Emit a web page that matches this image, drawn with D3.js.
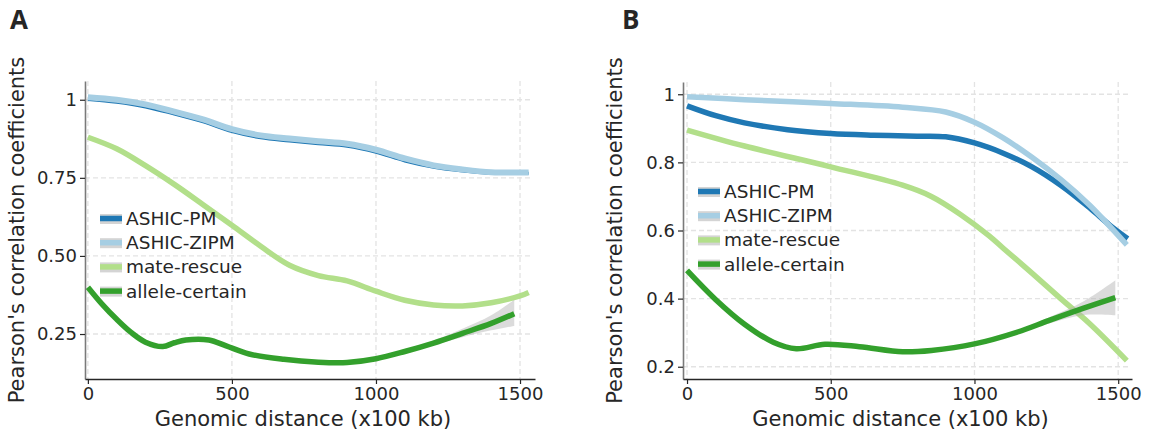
<!DOCTYPE html>
<html>
<head>
<meta charset="utf-8">
<script src="https://cdn.jsdelivr.net/npm/d3@7"></script>
<style>
    body { margin: 0; background: #fff; }
    text { font-family: "DejaVu Sans", sans-serif; fill: #262626; }
</style>
</head>
<body>
<div id="chart"></div>
<script>
// series names + colours (Paired palette)
var names = ['ASHIC-PM', 'ASHIC-ZIPM', 'mate-rescue', 'allele-certain'];
var colors = ['#1f78b4', '#a6cee3', '#b2df8a', '#33a02c'];

var xTicks = [0, 500, 1000, 1500];

// ---- panel A ----
var pmA_x = [0, 100, 200, 300, 400, 500, 600, 700, 800, 900, 1000, 1100, 1200, 1300, 1400, 1530];
var pmA_y = [1.001, 0.992, 0.977, 0.954, 0.929, 0.898, 0.878, 0.868, 0.859, 0.851, 0.832, 0.804, 0.784, 0.772, 0.765, 0.765];
var zipmA_x = [0, 100, 200, 300, 400, 500, 600, 700, 800, 900, 1000, 1100, 1200, 1300, 1400, 1530];
var zipmA_y = [1.008, 1.0, 0.985, 0.962, 0.937, 0.906, 0.886, 0.876, 0.867, 0.859, 0.840, 0.812, 0.790, 0.777, 0.768, 0.767];
var mateA_x = [0, 100, 200, 300, 400, 500, 600, 700, 800, 900, 1000, 1100, 1200, 1300, 1400, 1500, 1530];
var mateA_y = [0.880, 0.843, 0.789, 0.729, 0.664, 0.598, 0.531, 0.470, 0.437, 0.420, 0.387, 0.358, 0.343, 0.340, 0.350, 0.372, 0.383];
var acA_x = [0, 50, 100, 150, 200, 260, 300, 340, 420, 480, 560, 680, 800, 900, 1000, 1100, 1200, 1300, 1400, 1480];
var acA_y = [0.400, 0.345, 0.297, 0.255, 0.224, 0.210, 0.222, 0.231, 0.231, 0.212, 0.186, 0.169, 0.160, 0.159, 0.171, 0.194, 0.221, 0.252, 0.284, 0.315];
var acA_lo = [0.397, 0.342, 0.294, 0.252, 0.221, 0.207, 0.219, 0.228, 0.228, 0.209, 0.183, 0.166, 0.157, 0.156, 0.168, 0.190, 0.215, 0.240, 0.262, 0.276];
var acA_hi = [0.403, 0.348, 0.300, 0.258, 0.227, 0.213, 0.225, 0.234, 0.234, 0.215, 0.189, 0.172, 0.163, 0.162, 0.174, 0.199, 0.229, 0.267, 0.310, 0.360];
var yTicksA = [0.25, 0.5, 0.75, 1];
var yLabelsA = ['0.25', '0.50', '0.75', '1'];

// ---- panel B ----
var pmB_x = [0, 100, 200, 350, 500, 650, 800, 900, 1000, 1100, 1200, 1300, 1400, 1470, 1533];
var pmB_y = [0.966, 0.937, 0.916, 0.896, 0.885, 0.880, 0.877, 0.875, 0.857, 0.827, 0.787, 0.733, 0.667, 0.616, 0.576];
var zipmB_x = [0, 200, 500, 750, 900, 1000, 1100, 1200, 1300, 1400, 1460, 1530];
var zipmB_y = [0.993, 0.984, 0.973, 0.962, 0.948, 0.918, 0.872, 0.815, 0.750, 0.675, 0.622, 0.558];
var mateB_x = [0, 200, 500, 750, 850, 950, 1050, 1100, 1200, 1300, 1400, 1530];
var mateB_y = [0.895, 0.848, 0.787, 0.733, 0.700, 0.648, 0.585, 0.548, 0.475, 0.400, 0.327, 0.218];
var acB_x = [0, 100, 200, 300, 380, 480, 600, 750, 850, 1000, 1150, 1260, 1380, 1490];
var acB_y = [0.483, 0.397, 0.325, 0.272, 0.253, 0.266, 0.259, 0.244, 0.248, 0.267, 0.302, 0.336, 0.372, 0.403];
var acB_lo = [0.480, 0.394, 0.322, 0.269, 0.250, 0.263, 0.256, 0.241, 0.245, 0.264, 0.298, 0.327, 0.352, 0.351];
var acB_hi = [0.486, 0.400, 0.328, 0.275, 0.256, 0.269, 0.262, 0.247, 0.251, 0.270, 0.306, 0.345, 0.392, 0.454];
var yTicksB = [0.2, 0.4, 0.6, 0.8, 1];
var yLabelsB = ['0.2', '0.4', '0.6', '0.8', '1'];

var svg = d3.select('#chart')
    .append('svg')
    .attr('width', 1153)
    .attr('height', 435);

function zip(xs, ys) {
    return xs.map((d, i) => [d, ys[i]]);
}

/**
 * one panel of the figure
 */
function drawPanel(opt) {
    let xScale = d3.scaleLinear().domain(opt.xDomain).range([opt.left, opt.right]);
    let yScale = d3.scaleLinear().domain(opt.yDomain).range([opt.bottom, opt.top]);
    let g = svg.append('g');

    // grid
    g.selectAll('.hgrid')
        .data(opt.yTicks)
        .enter()
        .append('line')
        .attr('x1', opt.left)
        .attr('x2', opt.right - 3)
        .attr('y1', d => yScale(d))
        .attr('y2', d => yScale(d))
        .style('stroke', '#e3e3e3')
        .style('stroke-width', 1.3)
        .style('stroke-dasharray', '5,3');
    g.selectAll('.vgrid')
        .data(xTicks)
        .enter()
        .append('line')
        .attr('x1', d => xScale(d))
        .attr('x2', d => xScale(d))
        .attr('y1', opt.top)
        .attr('y2', opt.bottom)
        .style('stroke', '#e3e3e3')
        .style('stroke-width', 1.3)
        .style('stroke-dasharray', '5,3');

    let line = d3.line()
        .x(d => xScale(d[0]))
        .y(d => yScale(d[1]))
        .curve(d3.curveCatmullRom.alpha(0.5));

    let area = d3.area()
        .x(d => xScale(d[0]))
        .y0(d => yScale(d[1]))
        .y1(d => yScale(d[2]))
        .curve(d3.curveCatmullRom.alpha(0.5));

    opt.series.forEach((s, i) => {
        if (s.lo) {
            g.append('path')
                .attr('d', area(s.x.map((d, j) => [d, s.lo[j], s.hi[j]])))
                .style('fill', '#b0b0b0')
                .style('opacity', 0.45);
        }
        g.append('path')
            .attr('d', line(zip(s.x, s.y)))
            .style('fill', 'none')
            .style('stroke', colors[i])
            .style('stroke-width', s.w);
    });

    // axes
    let yAxis = g.append('g')
        .attr('transform', 'translate(' + opt.left + ',0)')
        .call(d3.axisLeft(yScale)
            .tickValues(opt.yTicks)
            .tickFormat((d, i) => opt.yLabels[i])
            .tickSize(5)
            .tickPadding(3)
            .tickSizeOuter(0));
    yAxis.select('.domain').style('stroke', '#7a7a7a').style('stroke-width', 1.6);
    yAxis.selectAll('.tick line').style('stroke', '#262626').style('stroke-width', 1.2);
    yAxis.selectAll('text').style('font-size', '18px').style('fill', '#262626');

    let xAxis = g.append('g')
        .attr('transform', 'translate(0,' + opt.bottom + ')')
        .call(d3.axisBottom(xScale)
            .tickValues(xTicks)
            .tickFormat(d3.format('d'))
            .tickSize(5)
            .tickPadding(3)
            .tickSizeOuter(0));
    xAxis.select('.domain').style('stroke', '#262626').style('stroke-width', 1.4);
    xAxis.selectAll('.tick line').style('stroke', '#262626').style('stroke-width', 1.2);
    xAxis.selectAll('text').style('font-size', '18px').style('fill', '#262626');

    // labels
    g.append('text')
        .attr('x', (opt.left + opt.right) / 2 - 7)
        .attr('y', 426)
        .style('text-anchor', 'middle')
        .style('font-size', '21px')
        .text('Genomic distance (x100 kb)');
    g.append('text')
        .attr('transform', 'translate(' + (opt.left - 61) + ',' + ((opt.top + opt.bottom) / 2) + ') rotate(-90)')
        .style('text-anchor', 'middle')
        .style('font-size', '21px')
        .text("Pearson's correlation coefficients");
    g.append('text')
        .attr('x', opt.letterX)
        .attr('y', 28.5)
        .style('font-family', '"Open Sans", sans-serif')
        .style('font-size', '26px')
        .style('font-weight', '700')
        .text(opt.letter);

    // legend
    let leg = g.selectAll('.legend')
        .data(names)
        .enter()
        .append('g')
        .attr('transform', (d, i) => 'translate(' + opt.legX + ',' + (opt.legY + i * 24.2) + ')');
    leg.append('rect')
        .attr('x', 0)
        .attr('y', -4.5)
        .attr('width', 22)
        .attr('height', 10)
        .style('fill', '#d4d4d4');
    leg.append('line')
        .attr('x1', 0)
        .attr('x2', 22)
        .attr('y1', 0)
        .attr('y2', 0)
        .style('stroke', (d, i) => colors[i])
        .style('stroke-width', 5.5);
    leg.append('text')
        .attr('x', 26)
        .attr('y', 6.5)
        .style('font-size', '18.5px')
        .text(d => d);
}

drawPanel({
    letter: 'A', letterX: 10,
    left: 85, right: 535, top: 81, bottom: 379,
    xDomain: [-10, 1552], yDomain: [0.106, 1.06],
    yTicks: yTicksA, yLabels: yLabelsA,
    legX: 100, legY: 218.5,
    series: [
        {x: pmA_x, y: pmA_y, w: 3},
        {x: zipmA_x, y: zipmA_y, w: 6},
        {x: mateA_x, y: mateA_y, w: 5.5},
        {x: acA_x, y: acA_y, lo: acA_lo, hi: acA_hi, w: 5.5}
    ]
});

drawPanel({
    letter: 'B', letterX: 622,
    left: 683, right: 1132, top: 82, bottom: 379,
    xDomain: [-14, 1548], yDomain: [0.164, 1.036],
    yTicks: yTicksB, yLabels: yLabelsB,
    legX: 698, legY: 191.5,
    series: [
        {x: pmB_x, y: pmB_y, w: 5.5},
        {x: zipmB_x, y: zipmB_y, w: 5.5},
        {x: mateB_x, y: mateB_y, w: 5.5},
        {x: acB_x, y: acB_y, lo: acB_lo, hi: acB_hi, w: 5.5}
    ]
});
</script>
</body>
</html>
